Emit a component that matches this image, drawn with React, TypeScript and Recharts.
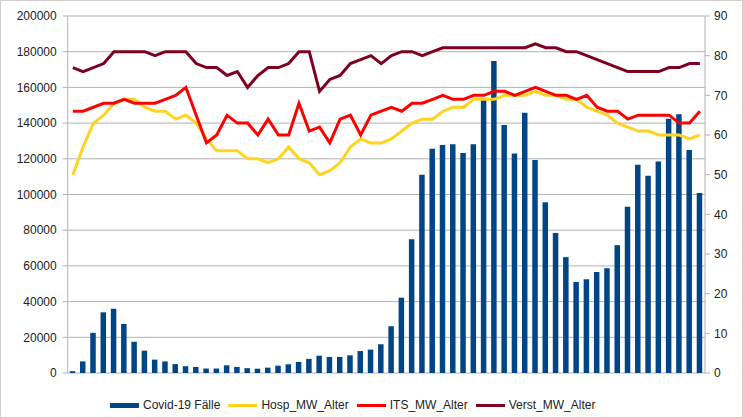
import React from 'react';
import { ComposedChart, Bar, Line, XAxis, YAxis, CartesianGrid, Legend } from 'recharts';

const weeks: string[] = [
  'W01','W02','W03','W04','W05','W06','W07','W08','W09','W10',
  'W11','W12','W13','W14','W15','W16','W17','W18','W19','W20',
  'W21','W22','W23','W24','W25','W26','W27','W28','W29','W30',
  'W31','W32','W33','W34','W35','W36','W37','W38','W39','W40',
  'W41','W42','W43','W44','W45','W46','W47','W48','W49','W50',
  'W51','W52','W53','W54','W55','W56','W57','W58','W59','W60',
  'W61','W62',
];

const cases: number[] = [
  1000, 6500, 22500, 34000, 36000, 27500, 17500, 12500, 7500, 6500,
  5000, 3800, 3400, 2500, 2500, 4300, 3400, 2700, 2400, 3000,
  4100, 4900, 6200, 7900, 9700, 9000, 9000, 9900, 12300, 13100,
  16100, 26200, 42200, 75000, 111000, 125600, 127700, 128200, 123200, 128200,
  154000, 174800, 138900, 123000, 145800, 119300, 95700, 78500, 64900, 51000,
  52500, 56600, 58700, 71600, 93100, 116600, 110500, 118500, 142400, 145000,
  125000, 100900,
];

const hosp: number[] = [
  50, 57, 63, 65, 68, 69, 69, 67, 66, 66,
  64, 65, 63, 59, 56, 56, 56, 54, 54, 53,
  54, 57, 54, 53, 50, 51, 53, 57, 59, 58,
  58, 59, 61, 63, 64, 64, 66, 67, 67, 69,
  69, 69, 70, 70, 70, 71, 70, 70, 69, 69,
  67, 66, 65, 63, 62, 61, 61, 60, 60, 60,
  59, 60,
];

const its: number[] = [
  66, 66, 67, 68, 68, 69, 68, 68, 68, 69,
  70, 72, 65, 58, 60, 65, 63, 63, 60, 64,
  60, 60, 68, 61, 62, 58, 64, 65, 60, 65,
  66, 67, 66, 68, 68, 69, 70, 69, 69, 70,
  70, 71, 71, 70, 71, 72, 71, 70, 70, 69,
  70, 67, 66, 66, 64, 65, 65, 65, 65, 63,
  63, 66,
];

const verst: number[] = [
  77, 76, 77, 78, 81, 81, 81, 81, 80, 81,
  81, 81, 78, 77, 77, 75, 76, 72, 75, 77,
  77, 78, 81, 81, 71, 74, 75, 78, 79, 80,
  78, 80, 81, 81, 80, 81, 82, 82, 82, 82,
  82, 82, 82, 82, 82, 83, 82, 82, 81, 81,
  80, 79, 78, 77, 76, 76, 76, 76, 77, 77,
  78, 78,
];

const leftTicks: number[] = [0, 20000, 40000, 60000, 80000, 100000, 120000, 140000, 160000, 180000, 200000];
const rightTicks: number[] = [0, 10, 20, 30, 40, 50, 60, 70, 80, 90];

const data = weeks.map((w, i) => ({
  week: w,
  cases: cases[i],
  hosp: hosp[i],
  its: its[i],
  verst: verst[i],
}));

const FONT = '"Liberation Sans", Arial, sans-serif';
const GRID = '#b3b3b3';

const renderLegend = (props: any) => {
  const payload = props.payload || [];
  return (
    <div style={{ display: 'flex', alignItems: 'center', height: 20, paddingLeft: 110, fontFamily: FONT, fontSize: 12, color: '#222' }}>
      {payload.map((entry: any, idx: number) => (
        <div key={idx} style={{ display: 'flex', alignItems: 'center', marginRight: 8 }}>
          <div
            style={{
              width: 29,
              height: entry.type === 'rect' ? 5 : 3,
              background: entry.color,
              marginRight: 4,
            }}
          />
          <span style={{ whiteSpace: 'nowrap' }}>{entry.value}</span>
        </div>
      ))}
    </div>
  );
};

export default function App() {
  return (
    <div style={{ position: 'absolute', left: 0, top: 0, width: 743, height: 418, background: '#fff', fontFamily: FONT }}>
      <ComposedChart width={743} height={418} data={data} margin={{ top: 16, right: 0, left: 0, bottom: 25 }}>
        <CartesianGrid yAxisId="left" vertical={false} stroke={GRID} strokeWidth={1} />
        <XAxis dataKey="week" hide />
        <YAxis
          yAxisId="left"
          domain={[0, 200000]}
          ticks={leftTicks}
          interval={0}
          width={67.7}
          tickSize={5}
          tickMargin={6}
          axisLine={{ stroke: GRID }}
          tickLine={{ stroke: GRID }}
          tick={{ fill: '#222', fontSize: 12, fontFamily: FONT }}
        />
        <YAxis
          yAxisId="right"
          orientation="right"
          domain={[0, 90]}
          ticks={rightTicks}
          interval={0}
          width={38}
          tickSize={5}
          tickMargin={4}
          axisLine={{ stroke: GRID }}
          tickLine={{ stroke: GRID }}
          tick={{ fill: '#222', fontSize: 12, fontFamily: FONT }}
        />
        <Bar yAxisId="left" dataKey="cases" name="Covid-19 Fälle" fill="#004586" barSize={5.5} legendType="rect" isAnimationActive={false} />
        <Line yAxisId="right" dataKey="hosp" name="Hosp_MW_Alter" stroke="#ffd320" strokeWidth={3} dot={false} activeDot={false} type="linear" legendType="line" isAnimationActive={false} />
        <Line yAxisId="right" dataKey="its" name="ITS_MW_Alter" stroke="#ff0000" strokeWidth={3} dot={false} activeDot={false} type="linear" legendType="line" isAnimationActive={false} />
        <Line yAxisId="right" dataKey="verst" name="Verst_MW_Alter" stroke="#7e0021" strokeWidth={3} dot={false} activeDot={false} type="linear" legendType="line" isAnimationActive={false} />
        <Legend verticalAlign="bottom" content={renderLegend} wrapperStyle={{ bottom: 3, left: 0, width: 743 }} />
      </ComposedChart>
      <div style={{ position: 'absolute', left: 0, top: 0, width: 743, height: 418, boxSizing: 'border-box', border: '1px solid #d4cccc', pointerEvents: 'none' }} />
    </div>
  );
}
